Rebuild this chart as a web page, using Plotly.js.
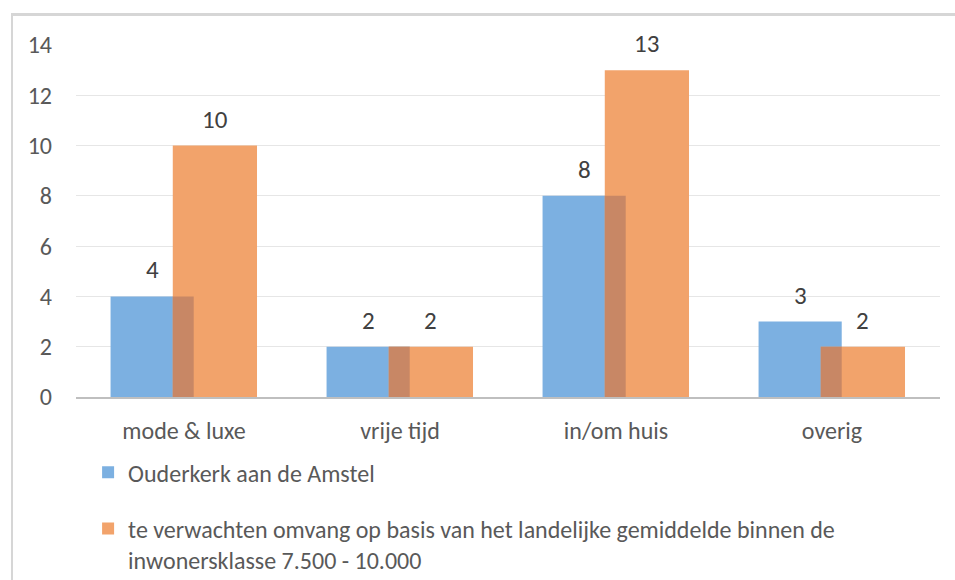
<!DOCTYPE html>
<html>
<head>
<meta charset="utf-8">
<script src="https://cdn.plot.ly/plotly-3.0.1.min.js"></script>
<style>
  html, body { margin: 0; padding: 0; background: #ffffff; }
  #wrap { position: relative; width: 955px; height: 580px; overflow: hidden; }
  #chart { position: absolute; left: 0; top: 0; width: 955px; height: 580px; }
  /* light frame round the chart area */
  #frame { position: absolute; left: 11px; top: 13px; width: 960px; height: 600px;
           border-left: 2px solid #d6d6d6; border-top: 3px solid #d6d6d6; pointer-events: none; }
</style>
</head>
<body>
<div id="wrap">
  <div id="chart"></div>
  <div id="frame"></div>
</div>
<script>
// Retail categories and number of shops
const categories = ["mode & luxe", "vrije tijd", "in/om huis", "overig"];
const ouderkerk = [4, 2, 8, 3];
const verwacht = [10, 2, 13, 2];
const seriesNames = [
  "Ouderkerk aan de Amstel",
  "te verwachten omvang op basis van het landelijke gemiddelde binnen de<br>inwonersklasse 7.500 - 10.000"
];
const yTicks = [0, 2, 4, 6, 8, 10, 12, 14];

// bar geometry (in category units), the two bars partly overlap
const blueOffset = -0.34, blueWidth = 0.385;
const orangeOffset = -0.052, orangeWidth = 0.39;

const blue = "#7cb0e1";
const orange = "#f2a36b";
const overlapColor = "#c88765";

const font = "Calibri, Carlito, Lato, 'Liberation Sans', sans-serif";
const fs = 24;

const overlapVals = ouderkerk.map((v, i) => Math.min(v, verwacht[i]));
const overlapWidth = blueOffset + blueWidth - orangeOffset;

const traces = [
  {
    type: "bar", x: categories, y: ouderkerk, name: seriesNames[0],
    offset: blueOffset, width: blueWidth,
    marker: { color: blue, line: { width: 0 } },
    legendgroup: "a", hoverinfo: "x+y"
  },
  {
    type: "bar", x: categories, y: verwacht, name: seriesNames[1],
    offset: orangeOffset, width: orangeWidth,
    marker: { color: orange, line: { width: 0 } },
    legendgroup: "b", hoverinfo: "x+y"
  },
  {
    // region where the two bars cover each other
    type: "bar", x: categories, y: overlapVals, showlegend: false,
    offset: orangeOffset, width: overlapWidth,
    marker: { color: overlapColor, line: { width: 0 } },
    hoverinfo: "skip"
  }
];

// value labels above each bar
const annotations = [];
categories.forEach((c, i) => {
  annotations.push({
    x: i + blueOffset + blueWidth / 2, y: ouderkerk[i], xref: "x", yref: "y",
    text: String(ouderkerk[i]), showarrow: false, yanchor: "bottom", yshift: 9,
    font: { family: font, size: 25, color: "#404040" }
  });
  annotations.push({
    x: i + orangeOffset + orangeWidth / 2, y: verwacht[i], xref: "x", yref: "y",
    text: String(verwacht[i]), showarrow: false, yanchor: "bottom", yshift: 9,
    font: { family: font, size: 25, color: "#404040" }
  });
});

const layout = {
  width: 955, height: 580,
  margin: { l: 76, r: 15, t: 45, b: 183, autoexpand: false },
  paper_bgcolor: "#ffffff", plot_bgcolor: "#ffffff",
  barmode: "overlay",
  font: { family: font, size: fs, color: "#595959" },
  xaxis: {
    type: "category", categoryarray: categories,
    showgrid: false, zeroline: false,
    showline: true, linecolor: "#bfbfbf", linewidth: 2,
    ticks: "", ticklabelstandoff: 11,
    tickfont: { family: font, size: fs, color: "#595959" },
    fixedrange: true
  },
  yaxis: {
    range: [0, 14], tickvals: yTicks, ticktext: yTicks.map(String),
    showgrid: true, gridcolor: "#e6e6e6", gridwidth: 1,
    zeroline: false, showline: false, ticks: "", ticklabelstandoff: 23,
    tickfont: { family: font, size: fs, color: "#595959" },
    fixedrange: true
  },
  showlegend: true,
  legend: {
    orientation: "v", x: 0.014, xanchor: "left", y: -0.151, yanchor: "top",
    traceorder: "grouped", tracegroupgap: 22, valign: "top",
    font: { family: font, size: fs, color: "#595959" },
    bgcolor: "rgba(0,0,0,0)"
  },
  annotations: annotations
};

Plotly.newPlot("chart", traces, layout, { displayModeBar: false, staticPlot: true });
</script>
</body>
</html>
